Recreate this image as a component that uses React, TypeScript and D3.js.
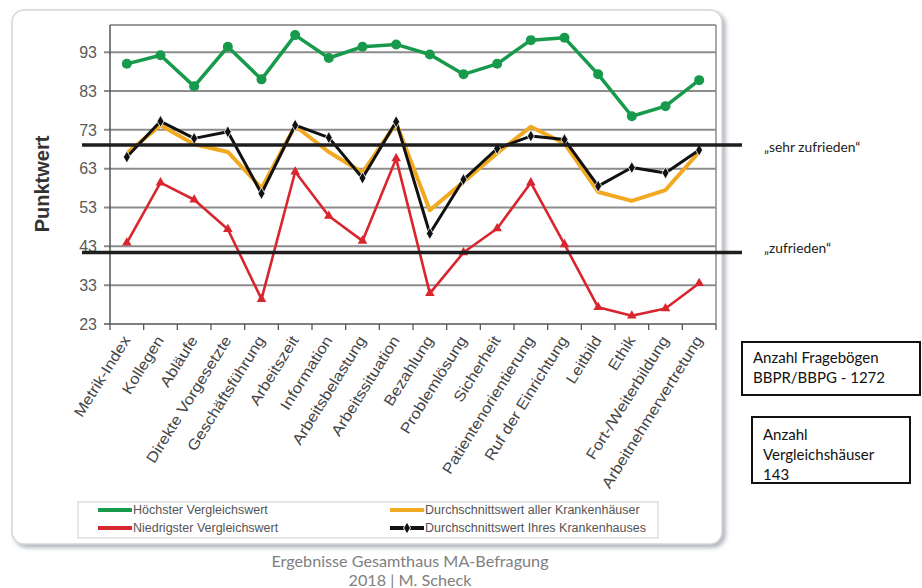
import React from "react";
import * as d3 from "d3";

// Survey dimensions (x axis)
const categories = [
  "Metrik-Index",
  "Kollegen",
  "Abläufe",
  "Direkte Vorgesetzte",
  "Geschäftsführung",
  "Arbeitszeit",
  "Information",
  "Arbeitsbelastung",
  "Arbeitssituation",
  "Bezahlung",
  "Problemlösung",
  "Sicherheit",
  "Patientenorientierung",
  "Ruf der Einrichtung",
  "Leitbild",
  "Ethik",
  "Fort-/Weiterbildung",
  "Arbeitnehmervertretung",
];

// Score series
const highest = [90, 92.2, 84.2, 94.4, 86, 97.4, 91.5, 94.4, 95, 92.4, 87.3, 90, 96.1, 96.7, 87.3, 76.5, 79.1, 85.8];
const lowest = [43.9, 59.4, 55, 47.4, 29.4, 62.2, 50.8, 44.4, 65.6, 30.9, 41.4, 47.6, 59.4, 43.5, 27.3, 25.1, 27, 33.5];
const averageAll = [67, 74.2, 69.3, 67.3, 58, 74, 67.3, 62, 74.7, 52.3, 59.6, 67, 73.8, 69.5, 57, 54.7, 57.5, 67.3];
const averageOwn = [66, 75.2, 70.8, 72.5, 56.6, 74.2, 71, 60.6, 75.1, 46.3, 60.2, 68.2, 71.4, 70.5, 58.5, 63.3, 61.9, 67.8];

const yTicks = [23, 33, 43, 53, 63, 73, 83, 93];
const yDomain = [23, 100];

const legendLabels = [
  "Höchster Vergleichswert",
  "Niedrigster Vergleichswert",
  "Durchschnittswert aller Krankenhäuser",
  "Durchschnittswert Ihres Krankenhauses",
];

const satisfactionLabels = ["„sehr zufrieden“", "„zufrieden“"];
const satisfactionValues = [69.1, 41.4];

const infoBox1 = ["Anzahl Fragebögen", "BBPR/BBPG - 1272"];
const infoBox2 = ["Anzahl", "Vergleichshäuser", "143"];
const footer = ["Ergebnisse Gesamthaus MA-Befragung", "2018 | M. Scheck"];

const GREEN = "#179a4b";
const RED = "#d9252e";
const ORANGE = "#f2a922";
const BLACK = "#111111";

const CHART_FONT = "'Liberation Sans', Arial, sans-serif";
const NOTE_FONT = "Lato, 'Open Sans', sans-serif";

export default function App() {
  const width = 922;
  const height = 588;
  const plot = { left: 110, right: 716, top: 25, bottom: 324 };

  const x = d3.scaleBand<string>().domain(categories).range([plot.left, plot.right]).paddingInner(0).paddingOuter(0);
  const y = d3.scaleLinear().domain(yDomain).range([plot.bottom, plot.top]);
  const cx = (c: string) => (x(c) as number) + x.bandwidth() / 2;

  const line = d3
    .line<number>()
    .x((_, i) => cx(categories[i]))
    .y((d) => y(d));

  const diamond = d3.symbol().type(d3.symbolDiamond).size(42)() as string;
  const triangle = d3.symbol().type(d3.symbolTriangle).size(40)() as string;

  const bandEdges = categories.map((c) => x(c) as number).concat([plot.right]);

  return (
    <svg
      width={width}
      height={height}
      style={{ position: "absolute", left: 0, top: 0, background: "#fff" }}
      fontFamily={CHART_FONT}
    >
      <defs>
        <filter id="frameShadow" x="-5%" y="-5%" width="110%" height="110%">
          <feDropShadow dx="3" dy="3" stdDeviation="2" floodColor="#8f96a3" floodOpacity="0.7" />
        </filter>
      </defs>

      {/* chart frame */}
      <rect x={12} y={10} width={710} height={534} rx={12} ry={12} fill="#fff" stroke="#d6d6d6" strokeWidth={1.5} filter="url(#frameShadow)" />

      {/* gridlines & y ticks */}
      {yTicks.map((t) => (
        <g key={t}>
          <line x1={plot.left - 6} x2={plot.right} y1={y(t)} y2={y(t)} stroke={t === 23 ? "#555" : "#8c8c8c"} strokeWidth={t === 23 ? 1.6 : 2} />
          <text x={97} y={y(t)} dy="0.36em" textAnchor="end" fontSize={16} fill="#5a5a5a">
            {t}
          </text>
        </g>
      ))}
      {/* plot border */}
      <line x1={plot.left} x2={plot.right} y1={plot.top} y2={plot.top} stroke="#7a7a7a" strokeWidth={1.5} />
      <line x1={plot.right} x2={plot.right} y1={plot.top} y2={plot.bottom} stroke="#8c8c8c" strokeWidth={1.5} />
      <line x1={plot.left} x2={plot.left} y1={plot.top} y2={plot.bottom} stroke="#555" strokeWidth={1.5} />

      {/* x ticks */}
      {bandEdges.map((e, i) => (
        <line key={i} x1={e} x2={e} y1={plot.bottom} y2={plot.bottom + 6} stroke="#555" strokeWidth={1.3} />
      ))}

      {/* x labels */}
      {categories.map((c) => (
        <text
          key={c}
          transform={`translate(${cx(c) + 4},${plot.bottom + 16}) rotate(-58) scale(1.12,1)`}
          textAnchor="end"
          fontSize={15}
          fill="#444"
        >
          {c}
        </text>
      ))}

      {/* Punktwert */}
      <text transform={`translate(49,184) rotate(-90)`} textAnchor="middle" fontSize={20} fontWeight="bold" fill="#333">
        Punktwert
      </text>

      {/* series */}
      <path d={line(highest) as string} fill="none" stroke={GREEN} strokeWidth={3.5} strokeLinejoin="round" />
      {highest.map((v, i) => (
        <circle key={i} cx={cx(categories[i])} cy={y(v)} r={5} fill={GREEN} />
      ))}

      <path d={line(averageAll) as string} fill="none" stroke={ORANGE} strokeWidth={4} strokeLinejoin="round" />

      <path d={line(averageOwn) as string} fill="none" stroke={BLACK} strokeWidth={3} strokeLinejoin="round" />
      {averageOwn.map((v, i) => (
        <path key={i} d={diamond} transform={`translate(${cx(categories[i])},${y(v)})`} fill={BLACK} stroke="#fff" strokeWidth={0.8} />
      ))}

      <path d={line(lowest) as string} fill="none" stroke={RED} strokeWidth={2.6} strokeLinejoin="round" />
      {lowest.map((v, i) => (
        <path key={i} d={triangle} transform={`translate(${cx(categories[i])},${y(v)})`} fill={RED} />
      ))}

      {/* legend */}
      <rect x={78} y={502} width={580} height={36} fill="#fff" stroke="#cfcfcf" strokeWidth={1} />
      {[
        { color: GREEN, x0: 98, yy: 510, label: legendLabels[0], kind: "line" },
        { color: RED, x0: 98, yy: 528, label: legendLabels[1], kind: "line" },
        { color: ORANGE, x0: 390, yy: 510, label: legendLabels[2], kind: "line" },
        { color: BLACK, x0: 390, yy: 528, label: legendLabels[3], kind: "diamond" },
      ].map((it) => (
        <g key={it.label}>
          <line x1={it.x0} x2={it.x0 + 34} y1={it.yy} y2={it.yy} stroke={it.color} strokeWidth={4} />
          {it.kind === "diamond" && (
            <path d={diamond} transform={`translate(${it.x0 + 17},${it.yy})`} fill={BLACK} stroke="#fff" strokeWidth={1} />
          )}
          <text x={it.x0 + 35} y={it.yy} dy="0.35em" fontSize={12.5} fill="#555">
            {it.label}
          </text>
        </g>
      ))}

      {/* satisfaction thresholds */}
      {satisfactionValues.map((v, i) => (
        <g key={i}>
          <line x1={82} x2={742} y1={y(v)} y2={y(v)} stroke="#1e1e1e" strokeWidth={3.5} />
          <text x={764} y={y(v) + (i === 0 ? 2 : -4)} dy="0.35em" fontFamily={NOTE_FONT} fontSize={13.8} fill="#222">
            {satisfactionLabels[i]}
          </text>
        </g>
      ))}

      {/* info boxes */}
      <rect x={742} y={342} width={178} height={53} fill="#fff" stroke="#111" strokeWidth={2} />
      {infoBox1.map((t, i) => (
        <text key={t} x={753} y={358 + i * 20} dy="0.35em" fontFamily={NOTE_FONT} fontSize={15} fill="#111">
          {t}
        </text>
      ))}
      <rect x={752} y={417} width={158} height={66} fill="#fff" stroke="#111" strokeWidth={2} />
      {infoBox2.map((t, i) => (
        <text key={t} x={763} y={435 + i * 20} dy="0.35em" fontFamily={NOTE_FONT} fontSize={15} fill="#111">
          {t}
        </text>
      ))}

      {/* footer */}
      {footer.map((t, i) => (
        <text key={t} x={410} y={561 + i * 19} dy="0.35em" textAnchor="middle" fontFamily={NOTE_FONT} fontSize={16.2} fill="#808080">
          {t}
        </text>
      ))}
    </svg>
  );
}
